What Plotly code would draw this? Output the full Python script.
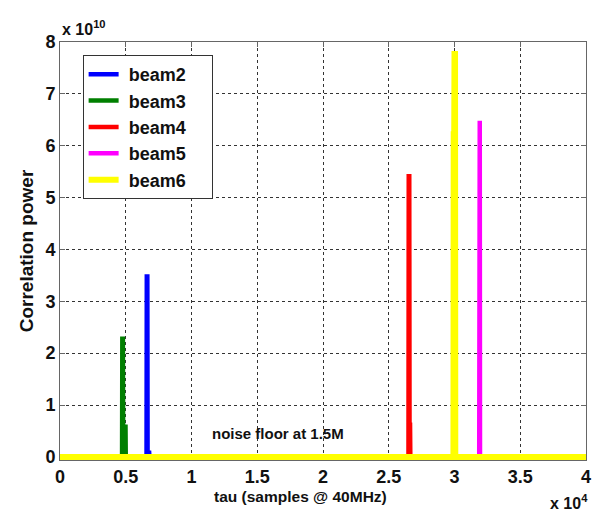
import plotly.graph_objects as go

# ---- data ----
x_max = 40000
noise_floor = 1.5e6

beam_names = ["beam2", "beam3", "beam4", "beam5", "beam6"]
beam_colors = ["#0000FF", "#007F00", "#FF0000", "#FF00FF", "#FFFF00"]

beam2_x = [0, 6580, 6600, 6640, 6660, 6780, 6800, x_max]
beam2_y = [noise_floor, noise_floor, 3.48e10, 3.48e10, 0.08e10, 0.08e10, noise_floor, noise_floor]

beam3_x = [0, 4720, 4740, 4780, 4800, 4980, 5000, x_max]
beam3_y = [noise_floor, noise_floor, 2.28e10, 2.28e10, 0.58e10, 0.58e10, noise_floor, noise_floor]

beam4_x = [0, 26500, 26520, 26560, 26580, 26620, 26640, x_max]
beam4_y = [noise_floor, noise_floor, 5.41e10, 5.41e10, 0.62e10, 0.62e10, noise_floor, noise_floor]

beam5_x = [0, 19990, 20000, 20010, 31880, 31900, 31920, 31940, x_max]
beam5_y = [noise_floor, noise_floor, 0.05e10, noise_floor, noise_floor, 6.48e10, 6.48e10, noise_floor, noise_floor]

beam6_x = [0, 29920, 29940, 29980, 30000, 30040, 30060, x_max]
beam6_y = [noise_floor, noise_floor, 6.22e10, 6.22e10, 7.77e10, 7.77e10, noise_floor, noise_floor]

series_x = [beam2_x, beam3_x, beam4_x, beam5_x, beam6_x]
series_y = [beam2_y, beam3_y, beam4_y, beam5_y, beam6_y]

x_tickvals = [0, 5000, 10000, 15000, 20000, 25000, 30000, 35000, 40000]
x_ticktext = ["0", "0.5", "1", "1.5", "2", "2.5", "3", "3.5", "4"]
y_tickvals = [0, 1e10, 2e10, 3e10, 4e10, 5e10, 6e10, 7e10, 8e10]
y_ticktext = ["0", "1", "2", "3", "4", "5", "6", "7", "8"]

FONT = "Liberation Sans, Arial, sans-serif"
INK = "#111111"
LEAD = "\u00a0"
PAD = "\u00a0" * 4

fig = go.Figure()
for name, color, xs, ys in zip(beam_names, beam_colors, series_x, series_y):
    fig.add_trace(go.Scatter(
        x=xs, y=ys, name=LEAD + "<b>" + name + "</b>" + PAD, mode="lines",
        line=dict(color=color, width=6 if name == "beam6" else 4.5),
    ))

axis_common = dict(
    showline=True, linecolor="#666666", linewidth=1, mirror="ticks",
    ticks="inside", ticklen=5, tickcolor="#666666",
    showgrid=True, gridcolor="#333333", gridwidth=1, griddash="3px,3px",
    zeroline=False, layer="below traces",
    tickfont=dict(family=FONT, size=18, color=INK, weight="bold"),
)

fig.update_xaxes(range=[0, x_max], tickvals=x_tickvals, ticktext=x_ticktext, **axis_common)
fig.update_yaxes(
    range=[-0.06e10, 8e10], tickvals=y_tickvals, ticktext=y_ticktext,
    title=dict(text="<b>Correlation power</b>", font=dict(family=FONT, size=19, color=INK), standoff=6),
    **axis_common,
)

fig.add_annotation(text="<b>tau (samples @ 40MHz)</b>", xref="paper", yref="paper",
                   x=0.457, y=0, xanchor="center", yanchor="middle", yshift=-36,
                   showarrow=False, font=dict(family=FONT, size=15.5, color=INK))
fig.add_annotation(text="<b>noise floor at 1.5M</b>", x=16600, y=0.45e10,
                   showarrow=False, font=dict(family=FONT, size=15, color=INK))
fig.add_annotation(text="<b>x 10<sup>10</sup></b>", xref="paper", yref="paper",
                   x=0, y=1.0, xanchor="left", yanchor="bottom", xshift=0, yshift=2,
                   showarrow=False, font=dict(family=FONT, size=16, color=INK))
fig.add_annotation(text="<b>x 10<sup>4</sup></b>", xref="paper", yref="paper",
                   x=1.0, y=0, xanchor="right", yanchor="top", xshift=4, yshift=-30,
                   showarrow=False, font=dict(family=FONT, size=16, color=INK))

fig.update_layout(
    width=603, height=517,
    margin=dict(l=60, r=14, t=42, b=57),
    paper_bgcolor="white", plot_bgcolor="white",
    showlegend=True,
    legend=dict(
        x=0.043, y=0.969, xanchor="left", yanchor="top",
        bgcolor="white", bordercolor="#333333", borderwidth=1,
        font=dict(family=FONT, size=18, color=INK),
    ),
)

fig.write_html("out.html")
